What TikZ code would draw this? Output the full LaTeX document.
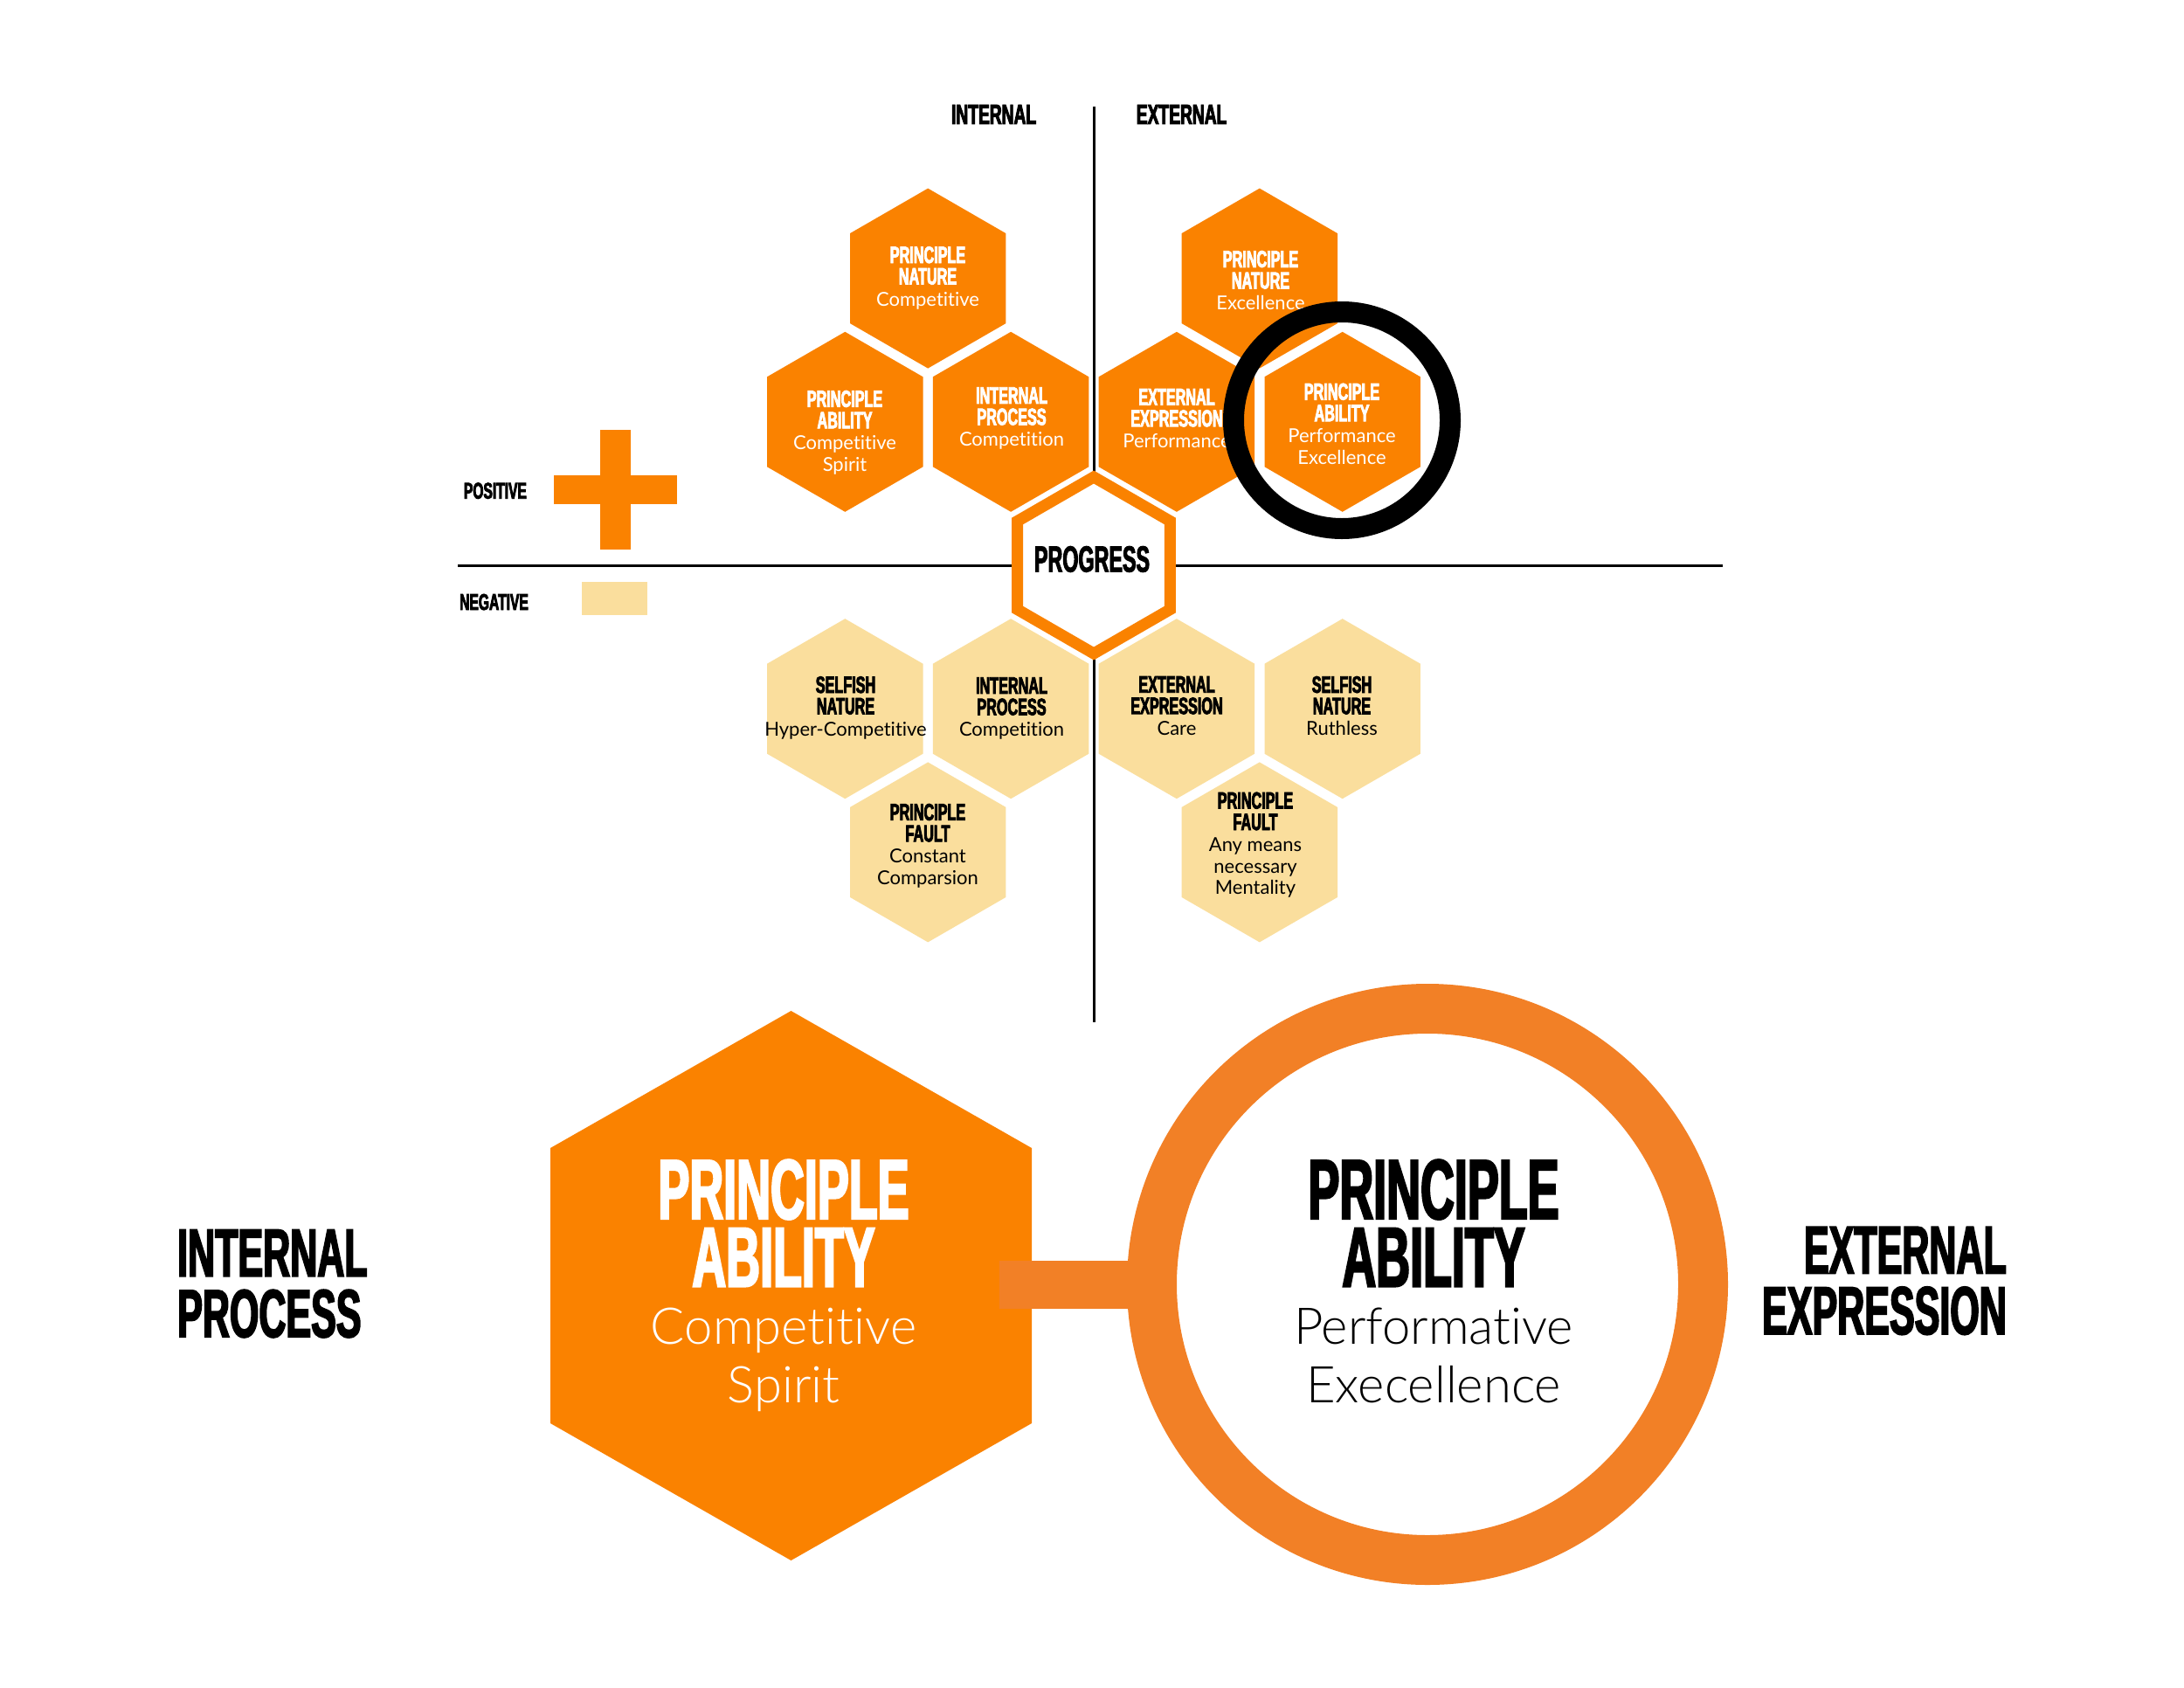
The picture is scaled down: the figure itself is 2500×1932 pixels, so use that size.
\documentclass[tikz,border=0pt]{standalone}
\usepackage{fontspec}
\newfontfamily\bbA[FakeStretch=0.6, FakeBold=3]{Liberation Sans Bold}
\newfontfamily\bbB[FakeStretch=0.555, FakeBold=2.3]{Liberation Sans Bold}
\newfontfamily\latoR[Ligatures=NoCommon]{Lato}
\newfontfamily\latoL[Ligatures=NoCommon]{Lato Light}
\definecolor{hexorange}{RGB}{250,130,0}
\definecolor{ringorange}{RGB}{242,128,38}
\definecolor{hexlight}{RGB}{250,222,157}
\newcommand\hb{\bbA\fontsize{27}{24.5}\selectfont}
\newcommand\hs{\latoR\fontsize{22}{24.5}\selectfont}
\newcommand\myBigBold{\bbB\fontsize{97}{67}\selectfont}
\newcommand\myBigLight{\latoL\fontsize{58}{67}\selectfont}
\tikzset{
  hexpath/.style={insert path={++(90:#1) -- ++(210:#1) -- ++(270:#1) -- ++(330:#1) -- ++(30:#1) -- ++(90:#1) -- cycle}},
  axisline/.style={line width=3pt, black},
  htxt/.style={align=center, inner sep=0pt, font=\fontsize{22}{24.5}\selectfont},
  wtxt/.style={htxt, text=white},
  ktxt/.style={htxt, text=black},
  toplab/.style={inner sep=0pt, font=\bbA\fontsize{32}{32}\selectfont},
  legtxt/.style={inner sep=0pt, font=\bbA\fontsize{26}{26}\selectfont},
  bigtxt/.style={inner sep=0pt, anchor=north, align=center, font=\fontsize{58}{67}\selectfont},
  sidelab/.style={inner sep=0pt, font=\bbB\fontsize{77.5}{69.4}\selectfont},
  barline/.style={line width=55pt, ringorange},
}
\begin{document}
\begin{tikzpicture}[x=1pt,y=-1pt]
\useasboundingbox (0,0) rectangle (2500,1932);
\fill[white] (0,0) rectangle (2500,1932);

% axes
\coordinate (vtop) at (1252,121.7);
\coordinate (vbot) at (1252,1170);
\coordinate (hleft) at (524,647);
\coordinate (hright) at (1972,647);
\draw[axisline] (vtop) -- (vbot);
\draw[axisline] (hleft) -- (hright);

% column labels
\node[toplab, anchor=base] (labint) at (1137.6,142) {INTERNAL};
\node[toplab, anchor=base] (labext) at (1352.6,142) {EXTERNAL};

% legend
\node[legtxt, anchor=base west] (pos) at (530.7,570.7) {POSITIVE};
\node[legtxt, anchor=base west] (neg) at (526,698) {NEGATIVE};
\node[fill=hexorange, inner sep=0pt, minimum width=34.4pt, minimum height=137.6pt] (plusv) at (704.5,560.5) {};
\node[fill=hexorange, inner sep=0pt, minimum width=141pt, minimum height=33.3pt] (plush) at (704.5,560.6) {};
\node[fill=hexlight, inner sep=0pt, minimum width=74.4pt, minimum height=38pt] (negbox) at (703.5,685) {};

% hex centres
\coordinate (cPNC) at (1062.2,318.6);
\coordinate (cPNE) at (1441.8,318.6);
\coordinate (cPACS) at (967.3,482.8);
\coordinate (cIPC) at (1157.1,482.8);
\coordinate (cEEP) at (1346.9,482.8);
\coordinate (cPAPE) at (1536.7,482.8);
\coordinate (cPRG) at (1252,647);
\coordinate (cSNHC) at (967.3,811.2);
\coordinate (cIPN) at (1157.1,811.2);
\coordinate (cEEC) at (1346.9,811.2);
\coordinate (cSNR) at (1536.7,811.2);
\coordinate (cPFCC) at (1062.2,975.4);
\coordinate (cPFAM) at (1441.8,975.4);

% positive hexes
\fill[hexorange] (cPNC) [hexpath=103];
\fill[hexorange] (cPNE) [hexpath=103];
\fill[hexorange] (cPACS) [hexpath=103];
\fill[hexorange] (cIPC) [hexpath=103];
\fill[hexorange] (cEEP) [hexpath=103];
\fill[hexorange] (cPAPE) [hexpath=103];
% negative hexes
\fill[hexlight] (cSNHC) [hexpath=103];
\fill[hexlight] (cIPN) [hexpath=103];
\fill[hexlight] (cEEC) [hexpath=103];
\fill[hexlight] (cSNR) [hexpath=103];
\fill[hexlight] (cPFCC) [hexpath=103];
\fill[hexlight] (cPFAM) [hexpath=103];
% progress hex
\draw[line width=13pt, draw=hexorange, fill=white, line join=miter] (cPRG) [hexpath=101];

% hex texts
\node[wtxt] (tPNC) at (1062,318) {\hb PRINCIPLE\\\hb NATURE\\\hs Competitive};
\node[wtxt] (tPNE) at (1443,321) {\hb PRINCIPLE\\\hb NATURE\\\hs Excellence};
\node[wtxt] (tPACS) at (967,495) {\hb PRINCIPLE\\\hb ABILITY\\\hs Competitive\\\hs Spirit};
\node[wtxt] (tIPC) at (1158,479) {\hb INTERNAL\\\hb PROCESS\\\hs Competition};
\node[wtxt] (tEEP) at (1347,479) {\hb EXTERNAL\\\hb EXPRESSION\\\hs Performance};
\node[wtxt] (tPAPE) at (1536,485) {\hb PRINCIPLE\\\hb ABILITY\\\hs Performance\\\hs Excellence};
\node[ktxt, font=\bbB\fontsize{42}{42}\selectfont] (tPRG) at (1250,640) {PROGRESS};
\node[ktxt] (tSNHC) at (968,810) {\hb SELFISH\\\hb NATURE\\\hs Hyper-Competitive};
\node[ktxt] (tIPN) at (1158,811) {\hb INTERNAL\\\hb PROCESS\\\hs Competition};
\node[ktxt] (tEEC) at (1347,808) {\hb EXTERNAL\\\hb EXPRESSION\\\hs Care};
\node[ktxt] (tSNR) at (1536,808) {\hb SELFISH\\\hb NATURE\\\hs Ruthless};
\node[ktxt] (tPFCC) at (1062,968) {\hb PRINCIPLE\\\hb FAULT\\\hs Constant\\\hs Comparsion};
\node[ktxt] (tPFAM) at (1437,967) {\hb PRINCIPLE\\\hb FAULT\\\hs Any means\\\hs necessary\\\hs Mentality};

% highlight ring
\node[circle, draw=black, line width=24pt, minimum size=248pt, inner sep=0pt, outer sep=0pt] (selring) at (1536,481) {};

% bottom detail
\fill[hexorange] (905.5,1157) -- (1181,1314) -- (1181,1629) -- (905.5,1786) -- (630,1629) -- (630,1314) -- cycle;
\node[circle, draw=ringorange, fill=white, line width=57pt, minimum size=631pt, inner sep=0pt, outer sep=0pt] (ring) at (1634,1470) {};
\coordinate (barstart) at (1144,1470);
\draw[barline] (barstart) -- (ring.west);

\node[bigtxt, text=white] (bigleft) at (897,1327) {\myBigBold PRINCIPLE\\[8.8pt]\myBigBold ABILITY\\[-1.4pt]\myBigLight Competitive\\\myBigLight Spirit};
\node[bigtxt, text=black] (bigright) at (1641,1327) {\myBigBold PRINCIPLE\\[8.8pt]\myBigBold ABILITY\\[-1.4pt]\myBigLight Performative\\\myBigLight Execellence};

\node[sidelab, anchor=north west, align=left] (intlab) at (203,1407.3) {INTERNAL\\PROCESS};
\node[sidelab, anchor=north east, align=right] (extlab) at (2297,1404) {EXTERNAL\\EXPRESSION};
\end{tikzpicture}
\end{document}
